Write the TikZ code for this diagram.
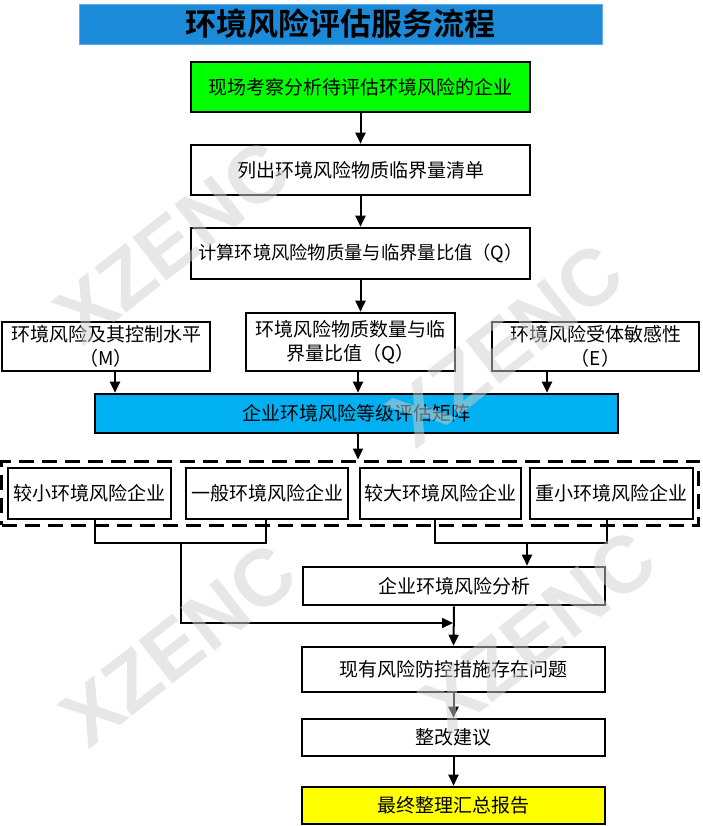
\documentclass[tikz,border=0pt]{standalone}
\usepackage{fontspec}
\newfontfamily\cjk{Noto Sans CJK SC}
\newfontfamily\cjkbold{Noto Sans CJK SC Bold}
\newfontfamily\wmfont{Liberation Sans}
\usetikzlibrary{arrows.meta}
\definecolor{titleblue}{HTML}{1B8AD8}
\definecolor{matblue}{HTML}{00B0F0}
\definecolor{boxgreen}{HTML}{00FF00}
\definecolor{boxyellow}{HTML}{FFFF00}
\definecolor{wmgray}{HTML}{D0D0D0}
\tikzset{
  box/.style={draw=black, line width=2.6pt, fill=white, inner sep=0pt,
    font=\cjk\fontsize{19}{24}\selectfont, align=center},
  conn/.style={line width=2pt},
  arr/.style={conn, -{Triangle[length=11pt,width=10pt]}},
  wm/.style={font=\wmfont\bfseries\fontsize{80}{80}\selectfont, text=wmgray, text opacity=0.5, rotate=38}
}
\newcommand\mkbox[7][]{\node[box,#1,minimum width={#5-#3},minimum height={#6-#4}] (#2) at ({(#3+#5)/2},{(#4+#6)/2}) {#7};}
\begin{document}
\begin{tikzpicture}[x=1pt,y=-1pt]
\useasboundingbox (0,0) rectangle (702,826);
\fill[white] (0,0) rectangle (702,826);
% title
\node[fill=titleblue, draw=titleblue!70!white, line width=0.6pt, minimum width=523pt, minimum height=40pt, inner sep=0pt,
  font=\cjkbold\fontsize{31}{34}\selectfont] (title) at (340.5,24) {环境风险评估服务流程};
% main chain
\mkbox[fill=boxgreen]{g1}{191}{62}{530}{112}{现场考察分析待评估环境风险的企业}
\mkbox{b2}{191}{145}{530}{195}{列出环境风险物质临界量清单}
\mkbox[font=\cjk\fontsize{18.3}{24}\selectfont]{b3}{191}{228}{530}{279}{计算环境风险物质量与临界量比值（Q）}
\mkbox{m}{2}{322}{210}{371}{环境风险及其控制水平\\（M）}
\mkbox{q}{246}{313}{455}{371}{环境风险物质数量与临\\界量比值（Q）}
\mkbox{e}{492}{322}{699}{371}{环境风险受体敏感性\\（E）}
\mkbox[fill=matblue]{mat}{95}{394}{618}{433}{企业环境风险等级评估矩阵}
% dashed group
\node[draw=black, line width=3pt, dash pattern=on 15pt off 8pt, minimum width=697pt, minimum height=64pt, inner sep=0pt] (grp) at (350,493) {};
\mkbox{c1}{8}{468}{171}{519}{较小环境风险企业}
\mkbox{c2}{186}{468}{348}{519}{一般环境风险企业}
\mkbox{c3}{360}{468}{521}{519}{较大环境风险企业}
\mkbox{c4}{530}{468}{693}{519}{重小环境风险企业}
\mkbox{an}{303}{567}{605}{605}{企业环境风险分析}
\mkbox{pr}{302}{647}{605}{692}{现有风险防控措施存在问题}
\mkbox{zg}{302}{719}{605}{756}{整改建议}
\mkbox[fill=boxyellow]{fin}{302}{787}{605}{824}{最终整理汇总报告}
% connectors
\draw[arr] (g1.south) -- (b2.north);
\draw[arr] (b2.south) -- (b3.north);
\draw[arr] (b3.south) -- (b3.south |- q.north);
\coordinate (mA) at (115,371);
\coordinate (qA) at (358,371);
\coordinate (eA) at (547,371);
\draw[arr] (mA) -- (mA |- mat.north);
\draw[arr] (qA) -- (qA |- mat.north);
\draw[arr] (eA) -- (eA |- mat.north);
\coordinate (mB) at (358,433);
\draw[arr] (mB) -- (mB |- grp.north);
% left pair
\coordinate (l1) at (95,519);
\coordinate (l2) at (266,519);
\coordinate (lj) at (181,543);
\draw[conn] (l1) -- (l1 |- lj) -- (l2 |- lj) -- (l2);
\coordinate (pin) at (453,623);
\draw[arr] (lj) |- (pin);
% right pair
\coordinate (r1) at (435,519);
\coordinate (r2) at (607,519);
\coordinate (rj) at (527,543);
\draw[conn] (r1) -- (r1 |- rj) -- (r2 |- rj) -- (r2);
\draw[arr] (rj) -- (rj |- an.north);
\draw[arr] (an.south) -- (pr.north);
\draw[arr] (pr.south) -- (zg.north);
\draw[arr] (zg.south) -- (fin.north);
% watermarks
\node[wm] (w1) at (172,242) {XZENC};
\node[wm] (w2) at (505,345) {XZENC};
\node[wm] (w3) at (178,645) {XZENC};
\node[wm] (w4) at (538,632) {XZENC};
\end{tikzpicture}
\end{document}
